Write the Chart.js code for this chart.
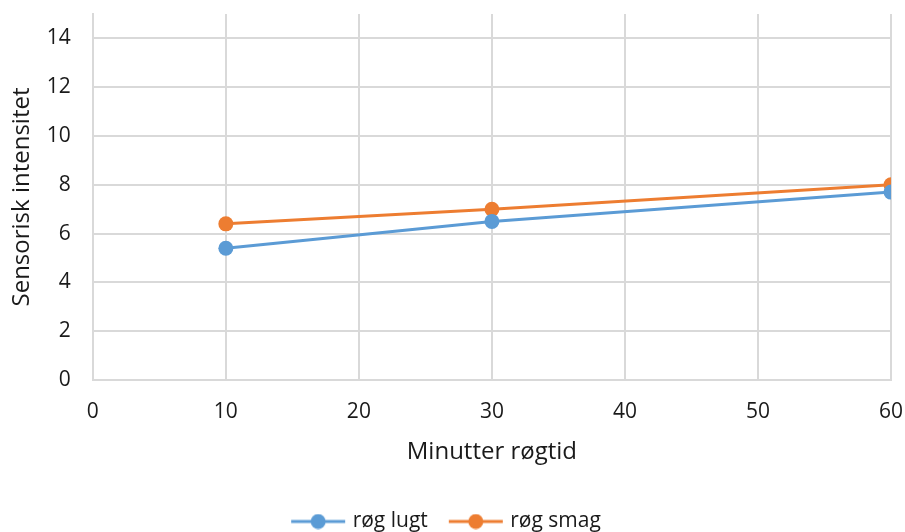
<!DOCTYPE html>
<html>
<head>
<meta charset="utf-8">
<script src="https://cdn.jsdelivr.net/npm/chart.js@4"></script>
<style>
  html, body { margin: 0; padding: 0; background: #fff; }
  #wrap { width: 905px; height: 532px; }
</style>
</head>
<body>
<div id="wrap"><canvas id="sensChart"></canvas></div>
<script>
  const minutes = [10, 30, 60];
  const lugt = [5.4, 6.5, 7.7];
  const smag = [6.4, 7.0, 8.0];
  const seriesNames = ['røg lugt', 'røg smag'];
  const colors = ['#5B9BD5', '#ED7D31'];
  const yTicks = [0, 2, 4, 6, 8, 10, 12, 14];

  const font = "'Open Sans', 'Liberation Sans', sans-serif";
  const tickSize = 21;
  const titleSize = 24;
  const txt = '#1a1a1a';

  // little line + dot swatch for the legend
  function swatch(color) {
    const c = document.createElement('canvas');
    c.width = 56; c.height = 16;
    const g = c.getContext('2d');
    g.strokeStyle = color;
    g.lineWidth = 3;
    g.beginPath(); g.moveTo(1, 8); g.lineTo(55, 8); g.stroke();
    g.fillStyle = color;
    g.beginPath(); g.arc(28, 8, 7.5, 0, Math.PI * 2); g.fill();
    return c;
  }

  const ctx = document.getElementById('sensChart').getContext('2d');

  const sensChart = new Chart(ctx, {
    type: 'scatter',
    data: {
      datasets: [lugt, smag].map((vals, i) => ({
        label: seriesNames[i],
        data: minutes.map((m, j) => ({ x: m, y: vals[j] })),
        showLine: true,
        borderColor: colors[i],
        backgroundColor: colors[i],
        borderWidth: 3,
        pointRadius: 7.5,
        pointHoverRadius: 7.5,
        pointBorderWidth: 0
      }))
    },
    options: {
      responsive: true,
      maintainAspectRatio: false,
      animation: false,
      layout: { padding: { top: 14, right: 14, left: 4, bottom: -10 } },
      scales: {
        x: {
          type: 'linear',
          min: 0,
          max: 60,
          ticks: { stepSize: 10, color: txt, font: { family: font, size: tickSize }, padding: 0 },
          grid: { color: '#D9D9D9', lineWidth: 2, drawTicks: true, tickLength: 19, tickColor: 'rgba(0,0,0,0)' },
          border: { color: '#D9D9D9', width: 2 },
          title: { display: true, text: 'Minutter røgtid', color: txt, font: { family: font, size: titleSize }, padding: { top: 14, bottom: 20 } }
        },
        y: {
          min: 0,
          max: 15,
          afterBuildTicks: scale => { scale.ticks = yTicks.map(v => ({ value: v })); },
          ticks: { color: txt, font: { family: font, size: tickSize }, padding: 0 },
          grid: { color: '#D9D9D9', lineWidth: 2, drawTicks: true, tickLength: 22, tickColor: 'rgba(0,0,0,0)' },
          border: { color: '#D9D9D9', width: 2 },
          title: { display: true, text: 'Sensorisk intensitet', color: txt, font: { family: font, size: titleSize }, padding: { top: 4, bottom: 10 } }
        }
      },
      plugins: {
        tooltip: { enabled: false },
        legend: {
          position: 'bottom',
          labels: {
            color: txt,
            font: { family: font, size: tickSize },
            usePointStyle: true,
            pointStyleWidth: 48,
            boxHeight: 16,
            padding: 24,
            generateLabels: chart => chart.data.datasets.map((ds, i) => ({
              text: ds.label,
              fontColor: txt,
              pointStyle: swatch(colors[i]),
              datasetIndex: i,
              lineWidth: 0,
              strokeStyle: 'transparent',
              fillStyle: colors[i]
            }))
          }
        }
      }
    }
  });
</script>
</body>
</html>
